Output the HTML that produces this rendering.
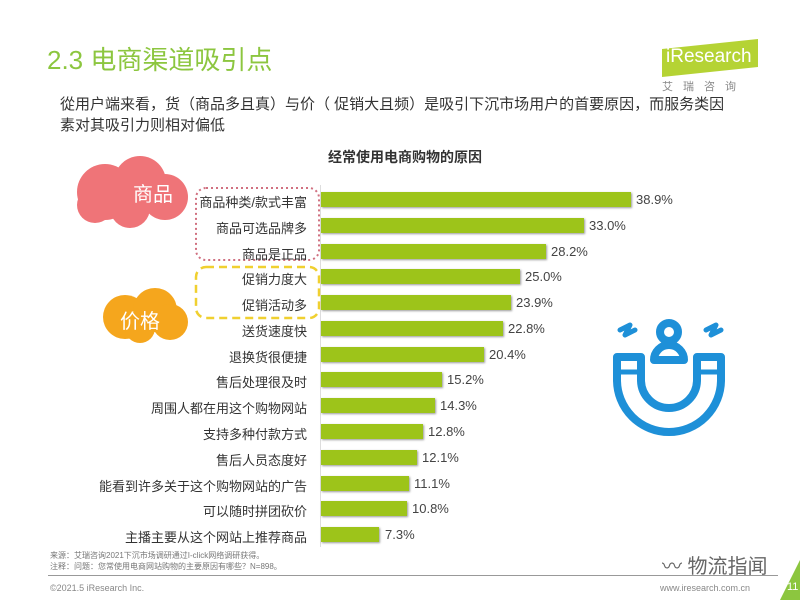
<!DOCTYPE html>
<html><head><meta charset="utf-8"><style>
body{margin:0;width:800px;height:600px;background:#fff;position:relative;overflow:hidden;font-family:"Liberation Sans","Noto Sans CJK SC",sans-serif;}
.a{position:absolute;white-space:nowrap;}
.lab{position:absolute;right:493px;font-size:13px;color:#333;}
.bar{position:absolute;left:321px;height:15px;background:#9dc41a;box-shadow:1px 1px 2px #999;}
.val{position:absolute;font-size:13px;color:#444;}
</style></head><body>
<div class="a" style="left:47px;top:40px;font-size:26px;color:#8cc63f;">2.3 电商渠道吸引点</div>
<div class="a" style="left:662px;top:44px;width:96px;height:28px;background:#b5d334;transform:skewY(-6deg);"></div>
<div class="a" style="left:666px;top:46px;font-size:19px;color:#fff;">iResearch</div>
<div class="a" style="left:662px;top:78px;font-size:11px;color:#888;letter-spacing:10px;">艾瑞咨询</div>
<div class="a" style="left:60px;top:94px;font-size:15px;color:#333;line-height:21px;">從用户端来看，货（商品多且真）与价（ 促销大且频）是吸引下沉市场用户的首要原因，而服务类因<br>素对其吸引力则相对偏低</div>
<div class="a" style="left:328px;top:147px;font-size:14px;font-weight:bold;color:#333;">经常使用电商购物的原因</div>
<div class="a" style="left:320px;top:185px;width:1px;height:362px;background:#ddd;"></div>
<svg class="a" style="left:0;top:0" width="800" height="600">
<g fill="#ef7478"><circle cx="105" cy="192" r="28"/><circle cx="140" cy="182" r="26"/><circle cx="165" cy="197" r="23"/><circle cx="130" cy="208" r="20"/><circle cx="95" cy="205" r="18"/></g>
<g fill="#f5a61d"><circle cx="125" cy="317" r="22"/><circle cx="155" cy="310" r="22"/><circle cx="170" cy="322" r="18"/><circle cx="140" cy="328" r="15"/></g>
<rect x="196" y="188" width="123" height="72" rx="10" fill="none" stroke="#d07080" stroke-width="2" stroke-dasharray="2,3"/>
<rect x="196" y="267" width="123" height="51" rx="10" fill="none" stroke="#f0d030" stroke-width="2.5" stroke-dasharray="8,5"/>
<g fill="none" stroke="#1e90d8" stroke-width="8" stroke-linecap="round" stroke-linejoin="round">
<path d="M617 357 L617 380 A52 52 0 0 0 721 380 L721 357 L697 357 L697 380 A28 28 0 0 1 641 380 L641 357 Z"/>
<path d="M617 372 L641 372 M697 372 L721 372" stroke-width="5"/>
<circle cx="669" cy="332" r="9"/><path d="M654 360 A15 15 0 0 1 684 360 Z"/>
<path d="M620 330 l10 -5 l-5 10 l10 -5 M706 330 l10 -5 l-5 10 l10 -5" stroke-width="5"/>
</g>
<polygon points="780,600 800,560 800,600" fill="#8cc63f"/>
</svg>
<div class="a" style="left:133px;top:178px;font-size:20px;color:#fff;">商品</div>
<div class="a" style="left:120px;top:305px;font-size:20px;color:#fff;">价格</div>
<div class="lab" style="top:192px">商品种类/款式丰富</div><div class="bar" style="top:192px;width:310px"></div><div class="val" style="left:636px;top:192px">38.9%</div>
<div class="lab" style="top:218px">商品可选品牌多</div><div class="bar" style="top:218px;width:263px"></div><div class="val" style="left:589px;top:218px">33.0%</div>
<div class="lab" style="top:244px">商品是正品</div><div class="bar" style="top:244px;width:225px"></div><div class="val" style="left:551px;top:244px">28.2%</div>
<div class="lab" style="top:269px">促销力度大</div><div class="bar" style="top:269px;width:199px"></div><div class="val" style="left:525px;top:269px">25.0%</div>
<div class="lab" style="top:295px">促销活动多</div><div class="bar" style="top:295px;width:190px"></div><div class="val" style="left:516px;top:295px">23.9%</div>
<div class="lab" style="top:321px">送货速度快</div><div class="bar" style="top:321px;width:182px"></div><div class="val" style="left:508px;top:321px">22.8%</div>
<div class="lab" style="top:347px">退换货很便捷</div><div class="bar" style="top:347px;width:163px"></div><div class="val" style="left:489px;top:347px">20.4%</div>
<div class="lab" style="top:372px">售后处理很及时</div><div class="bar" style="top:372px;width:121px"></div><div class="val" style="left:447px;top:372px">15.2%</div>
<div class="lab" style="top:398px">周围人都在用这个购物网站</div><div class="bar" style="top:398px;width:114px"></div><div class="val" style="left:440px;top:398px">14.3%</div>
<div class="lab" style="top:424px">支持多种付款方式</div><div class="bar" style="top:424px;width:102px"></div><div class="val" style="left:428px;top:424px">12.8%</div>
<div class="lab" style="top:450px">售后人员态度好</div><div class="bar" style="top:450px;width:96px"></div><div class="val" style="left:422px;top:450px">12.1%</div>
<div class="lab" style="top:476px">能看到许多关于这个购物网站的广告</div><div class="bar" style="top:476px;width:88px"></div><div class="val" style="left:414px;top:476px">11.1%</div>
<div class="lab" style="top:501px">可以随时拼团砍价</div><div class="bar" style="top:501px;width:86px"></div><div class="val" style="left:412px;top:501px">10.8%</div>
<div class="lab" style="top:527px">主播主要从这个网站上推荐商品</div><div class="bar" style="top:527px;width:58px"></div><div class="val" style="left:385px;top:527px">7.3%</div>
<div class="a" style="left:50px;top:550px;font-size:8px;color:#777;line-height:11px;">来源：艾瑞咨询2021下沉市场调研通过I-click网络调研获得。<br>注释：问题：您常使用电商网站购物的主要原因有哪些？N=898。</div>
<div class="a" style="left:662px;top:550px;font-size:20px;color:#666;">〰 物流指闻</div>
<div class="a" style="left:48px;top:575px;width:730px;height:1px;background:#999;"></div>
<div class="a" style="left:50px;top:583px;font-size:9px;color:#888;">©2021.5 iResearch Inc.</div>
<div class="a" style="left:660px;top:583px;font-size:9px;color:#888;">www.iresearch.com.cn</div>
<div class="a" style="left:787px;top:581px;font-size:11px;color:#fff;">11</div>
</body></html>
